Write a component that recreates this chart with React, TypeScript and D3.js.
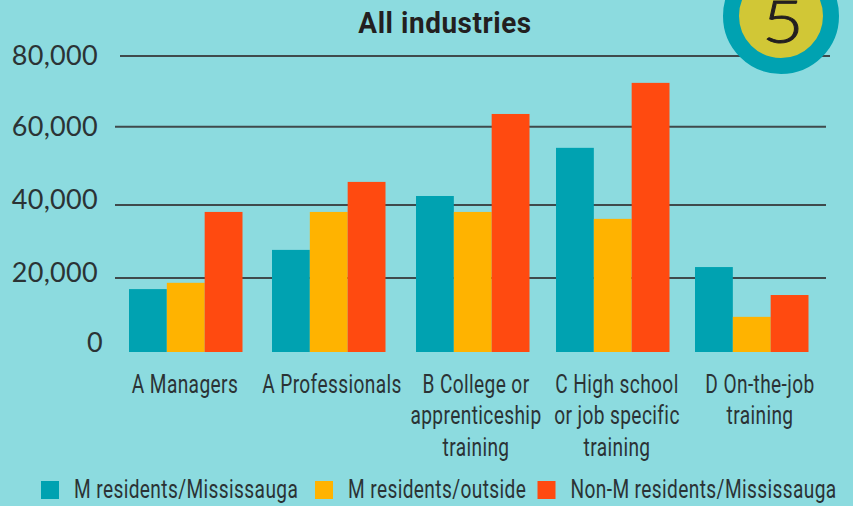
import React from 'react';
import { scaleBand, scaleLinear } from 'd3';

const width = 853;
const height = 506;

const categories = [
  ['A Managers'],
  ['A Professionals'],
  ['B College or', 'apprenticeship', 'training'],
  ['C High school', 'or job specific', 'training'],
  ['D On-the-job', 'training'],
];
const seriesNames = ['M residents/Mississauga', 'M residents/outside', 'Non-M residents/Mississauga'];
const seriesColors = ['#00a2b1', '#ffb300', '#ff4a10'];

const residentsMississauga = [17000, 27700, 42300, 54600, 23000];
const residentsOutside = [18700, 38100, 38100, 36200, 9500];
const nonResidents = [38100, 45900, 63600, 72400, 15400];
const series = [residentsMississauga, residentsOutside, nonResidents];

const yTicks = [0, 20000, 40000, 60000, 80000];

// the printed axis is not quite even, so the scales are pinned to where things sit in the picture
const yScale = scaleLinear().domain(yTicks).range([352, 278, 205, 126.7, 56]);
const tickLabelScale = scaleLinear().domain(yTicks).range([352, 282, 208.5, 136, 64.5]);
const groupScale = scaleLinear().domain([0, 1, 2, 3, 4]).range([129, 272, 416, 556, 695]);
const labelScale = scaleLinear().domain([0, 1, 2, 3, 4]).range([185, 332, 476, 617, 760]);
const innerScale = scaleBand<number>().domain([0, 1, 2]).range([0, 113.5]);

const ink = '#2b3335';
const legendX = [41, 315, 537.5];

// no condensed face is installed, so Roboto gets squeezed sideways
const Narrow = ({ x, y, anchor, children }: { x: number; y: number; anchor?: string; children: string }) => (
  <g transform={`translate(${x},${y}) scale(0.765,1)`}>
    <text textAnchor={anchor} fontFamily="Roboto, sans-serif" fontSize={25} letterSpacing={0.5} fill={ink}>
      {children}
    </text>
  </g>
);

const App = () => (
  <svg width={width} height={height} style={{ position: 'absolute', left: 0, top: 0, background: '#8cdbdf' }}>
    <g transform="translate(445,33) scale(0.93,1)">
      <text textAnchor="middle" fontFamily="Roboto, sans-serif" fontWeight="bold" fontSize={30} letterSpacing={0.6} fill="#231f20">
        All industries
      </text>
    </g>

    {yTicks.map((tick) => (
      <g key={tick}>
        {tick > 0 && (
          <line
            x1={tick === 80000 ? 120 : 115}
            x2={tick === 80000 ? 830 : 826}
            y1={yScale(tick)}
            y2={yScale(tick)}
            stroke="#3f4a4c"
            strokeWidth={2}
          />
        )}
        <text
          x={tick === 0 ? 103 : 98}
          y={tickLabelScale(tick)}
          textAnchor="end"
          fontFamily="Lato, sans-serif"
          fontSize={27}
          letterSpacing={0.3}
          fill={ink}
        >
          {tick.toLocaleString('en-US')}
        </text>
      </g>
    ))}

    {series.map((values, s) => (
      <g key={seriesNames[s]} fill={seriesColors[s]}>
        {values.map((value, i) => (
          <rect
            key={i}
            x={groupScale(i) + (innerScale(s) as number)}
            y={yScale(value)}
            width={innerScale.bandwidth()}
            height={yScale(0) - yScale(value)}
          />
        ))}
      </g>
    ))}

    {categories.map((lines, i) =>
      lines.map((line, l) => (
        <Narrow key={line + i} x={labelScale(i)} y={392.5 + l * 31.5} anchor="middle">
          {line}
        </Narrow>
      )),
    )}

    {seriesNames.map((name, s) => (
      <g key={name}>
        <rect x={legendX[s]} y={481} width={18} height={18} fill={seriesColors[s]} />
        <Narrow x={legendX[s] + 33} y={498}>
          {name}
        </Narrow>
      </g>
    ))}

    <circle cx={781} cy={16} r={50} fill="#d1c736" stroke="#00a2b1" strokeWidth={16} />
    <g transform="translate(783,43) scale(1.2,1)">
      <text textAnchor="middle" fontFamily="Lato, sans-serif" fontWeight={300} fontSize={60} stroke="#231f20" strokeWidth={0.9} fill="#231f20">
        5
      </text>
    </g>
  </svg>
);

export default App;
